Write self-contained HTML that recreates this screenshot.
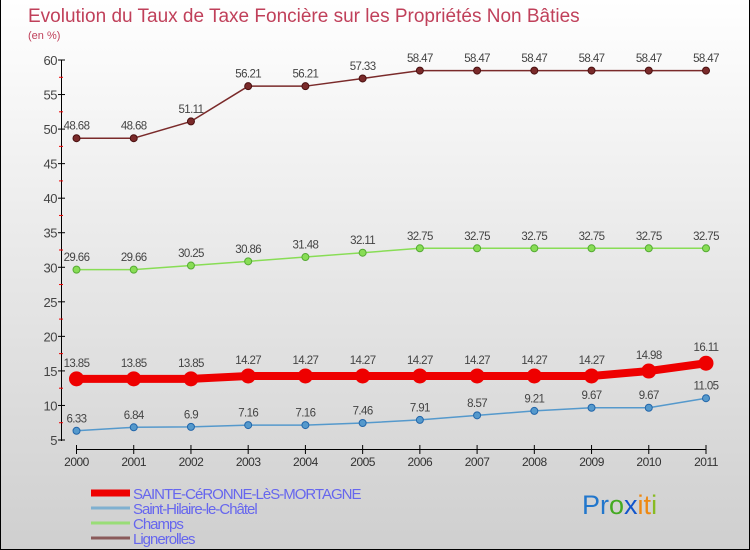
<!DOCTYPE html>
<html><head><meta charset="utf-8"><style>
body{margin:0}
#c{position:relative;width:750px;height:550px;overflow:hidden;background:linear-gradient(#ffffff,#cfcfcf);font-family:"Liberation Sans",sans-serif;box-sizing:border-box;border:1px solid #000;border-top:none}
svg{position:absolute;left:0;top:0}
</style></head><body>
<div id="c">
<svg id="s" width="750" height="550">
<text x="27" y="22" font-size="19" fill="#c0405a">Evolution du Taux de Taxe Foncière sur les Propriétés Non Bâties</text>
<text x="27" y="39" font-size="11" fill="#c0405a">(en %)</text>
</svg>
</div>
<script>
const years=[2000,2001,2002,2003,2004,2005,2006,2007,2008,2009,2010,2011];
const yTicks=[5,10,15,20,25,30,35,40,45,50,55,60];
const sainte=[13.85,13.85,13.85,14.27,14.27,14.27,14.27,14.27,14.27,14.27,14.98,16.11];
const hilaire=[6.33,6.84,6.9,7.16,7.16,7.46,7.91,8.57,9.21,9.67,9.67,11.05];
const champs=[29.66,29.66,30.25,30.86,31.48,32.11,32.75,32.75,32.75,32.75,32.75,32.75];
const ligne=[48.68,48.68,51.11,56.21,56.21,57.33,58.47,58.47,58.47,58.47,58.47,58.47];
const names=["SAINTE-CéRONNE-LèS-MORTAGNE","Saint-Hilaire-le-Châtel","Champs","Lignerolles"];
const NS="http://www.w3.org/2000/svg",s=document.getElementById('s');
const X=i=>75.5+i*(705-75.5)/(years.length-1);
const Y=v=>60+(60-v)*(380/55);
function el(t,a,p){const e=document.createElementNS(NS,t);for(const k in a)e.setAttribute(k,a[k]);(p||s).appendChild(e);return e;}
// axes
let ax=el('line',{x1:60.5,y1:60,x2:60.5,y2:441,stroke:'#000'});


yTicks.forEach(v=>{
 el('line',{x1:57,x2:64,y1:Y(v),y2:Y(v),stroke:'#000'});
 if(v<60){const m=el('line',{x1:58,x2:62,y1:Y(v+2.5),y2:Y(v+2.5),stroke:'#e00'});}
 const t=el('text',{x:56,y:Y(v)+5,'font-size':13,fill:'#444','text-anchor':'end','letter-spacing':'-0.5'});
 t.textContent=v;
 
 
});
let xa=el('line',{x1:75.5,y1:449.5,x2:705,y2:449.5,stroke:'#000'});


years.forEach((y,i)=>{
 el('line',{x1:X(i),x2:X(i),y1:445,y2:454,stroke:'#000'});
 const t=el('text',{x:X(i),y:466,'font-size':12,fill:'#333','text-anchor':'middle','letter-spacing':'-0.5'});
 t.textContent=y;
 
 
});
function series(d,col,w,r,name,dark){
 const g=el('g',{});
 
 
 el('polyline',{points:d.map((v,i)=>X(i)+','+Y(v)).join(' '),fill:'none',stroke:col,'stroke-width':w,'stroke-linejoin':'round'},g);
 d.forEach((v,i)=>{
  const c=el('circle',{cx:X(i),cy:Y(v),r:r,fill:col,stroke:dark,'stroke-width':1},g);
  
  
  const t=el('text',{x:X(i),y:Y(v)-(r+5),'font-size':11.5,fill:'#444','text-anchor':'middle','letter-spacing':'-0.6'},g);
  t.textContent=String(v);
  
  
 });
}
series(ligne,'#7a2a2a',1.5,3.5,'series-lignerolles','#4a1010');
series(champs,'#88dd55',1.5,3.5,'series-champs','#55aa33');
series(hilaire,'#5599cc',1.5,3.5,'series-saint-hilaire','#2266aa');
series(sainte,'#ee0000',8,7,'series-sainte-ceronne','#ee0000');
const cols=['#ee0000','#7fb0d0','#99dd77','#8a5a5a'],ws=[7,3,3,3];
names.forEach((n,i)=>{
 const y=493+i*15;
 const g=el('g',{});
 
 
 el('line',{x1:90,x2:129,y1:y,y2:y,stroke:cols[i],'stroke-width':ws[i]},g);
 const t=el('text',{x:132,y:y+6,'font-size':15,fill:'#6666ee','letter-spacing':'-1'},g);
 t.textContent=n;
});
const lg=el('text',{x:581,y:514,'font-size':27,'font-family':'Liberation Sans'});


[['P','#2277cc'],['r','#2277cc'],['o','#44aa22'],['x','#1155cc'],['i','#ee8811'],['t','#ee8811'],['i','#88bb22']].forEach(([c,f])=>{const sp=el('tspan',{fill:f},lg);sp.textContent=c;});
</script>
</body></html>
